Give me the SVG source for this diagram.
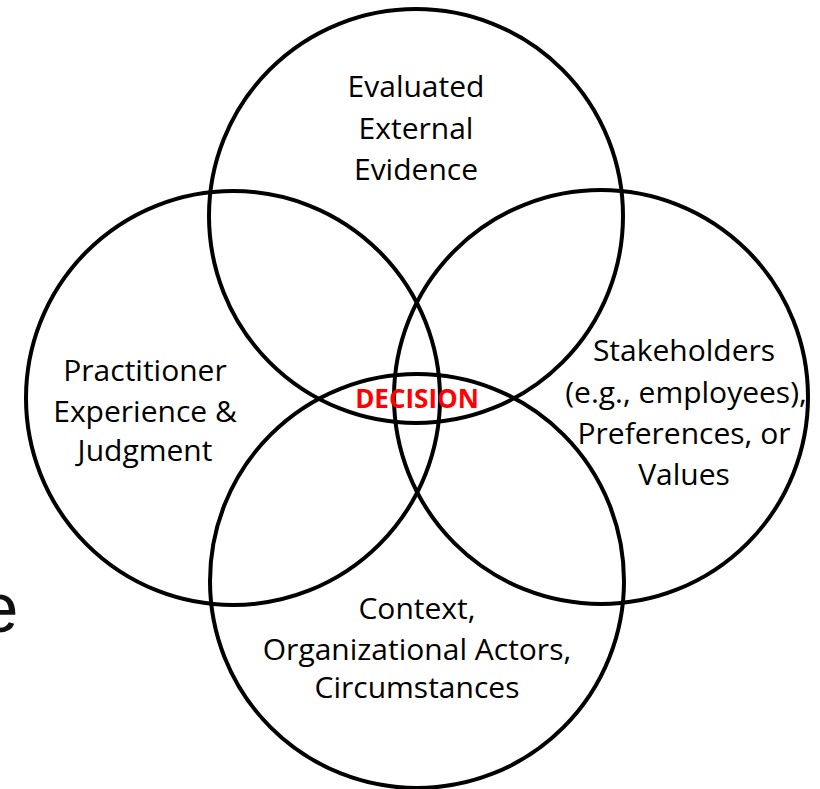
<svg xmlns="http://www.w3.org/2000/svg" width="820" height="789" viewBox="0 0 820 789">
  <style>
    .ring { fill: none; stroke: #000; stroke-width: 4; }
    .lbl { font-family: "Open Sans", "Liberation Sans", sans-serif; font-size: 30px; fill: #000; text-anchor: middle; }
    .core { font-family: "Open Sans", "Liberation Sans", sans-serif; font-size: 26px; font-weight: bold; fill: #ff0000; text-anchor: middle; }
    .edge { font-family: "Liberation Sans", Arial, sans-serif; font-size: 71px; fill: #111; }
  </style>
  <rect width="820" height="789" fill="#fff"/>

  <!-- clipped letter at the left margin -->
  <text class="edge" x="-21" y="632">e</text>

  <g id="evidence">
    <circle class="ring" cx="416" cy="216" r="207"/>
    <text class="lbl" x="416" y="97">Evaluated</text>
    <text class="lbl" x="416" y="139">External</text>
    <text class="lbl" x="416" y="180">Evidence</text>
  </g>

  <g id="practitioner">
    <circle class="ring" cx="233" cy="398" r="207"/>
    <text class="lbl" x="145" y="381">Practitioner</text>
    <text class="lbl" x="145" y="422">Experience &amp;</text>
    <text class="lbl" x="145" y="461">Judgment</text>
  </g>

  <g id="stakeholders">
    <circle class="ring" cx="601" cy="397" r="207"/>
    <text class="lbl" x="684" y="361">Stakeholders</text>
    <text class="lbl" x="686" y="403">(e.g., employees),</text>
    <text class="lbl" x="684" y="444">Preferences, or</text>
    <text class="lbl" x="684" y="485">Values</text>
  </g>

  <g id="context">
    <circle class="ring" cx="417" cy="581" r="207"/>
    <text class="lbl" x="417" y="619">Context,</text>
    <text class="lbl" x="417" y="660">Organizational Actors,</text>
    <text class="lbl" x="417" y="698">Circumstances</text>
  </g>

  <g id="decision">
    <text class="core" x="417" y="408">DECISION</text>
  </g>

  <g id="connectors"></g>
</svg>
